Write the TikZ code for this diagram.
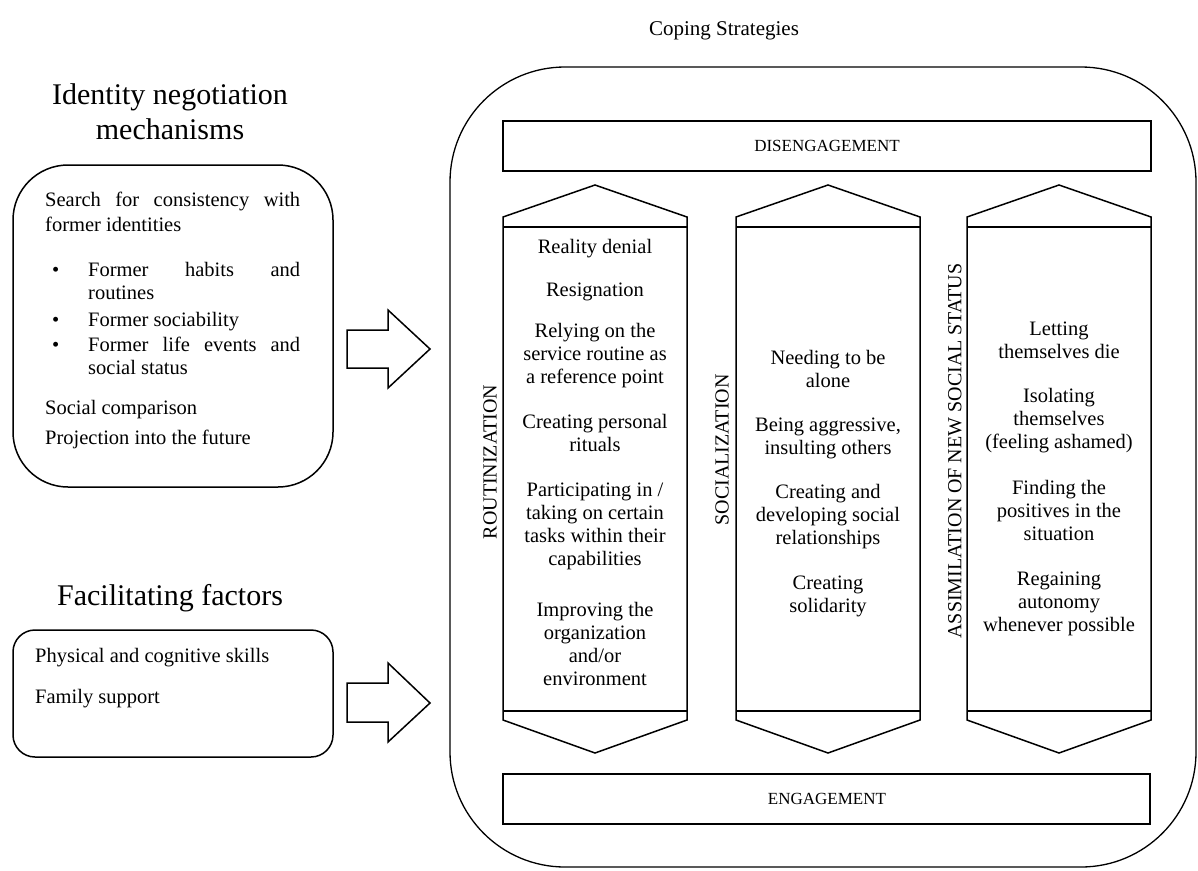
\documentclass[tikz,border=0pt]{standalone}
\usepackage{fontspec}
\setmainfont{Liberation Serif}
\begin{document}
\begin{tikzpicture}[x=1pt,y=-1pt,line join=miter,
  outl/.style={draw,line width=1.5pt},
  bigbox/.style={draw,line width=1.3pt},
  coltxt/.style={anchor=base,inner sep=0pt,font=\fontsize{20.5}{23}\selectfont},
  lefttxt/.style={anchor=base west,inner sep=0pt,font=\fontsize{20.5}{23}\selectfont},
  title/.style={anchor=base,inner sep=0pt,font=\fontsize{30}{34}\selectfont},
  captxt/.style={inner sep=0pt,font=\fontsize{17}{20}\selectfont},
  vlab/.style={inner sep=0pt,rotate=90,font=\fontsize{20}{22}\selectfont}]
\useasboundingbox (0,0) rectangle (1198,870);

% titles
\node[title,font=\fontsize{21}{24}\selectfont] (coping) at (724,35) {Coping Strategies};
\node[title] (idn1) at (170,104) {Identity negotiation};
\node[title] (idn2) at (170,139) {mechanisms};
\node[title] (fac) at (170,605) {Facilitating factors};

% big rounded box
\draw[bigbox,rounded corners=115pt] (450,67) rectangle (1196,867);

% left boxes
\draw[outl,rounded corners=55pt] (13,165) rectangle (333,487);
\draw[outl,rounded corners=22pt] (13,630) rectangle (333,757);

\node[lefttxt] (l1) at (45,206) {\makebox[255pt][s]{Search for consistency with}};
\node[lefttxt] (l2) at (45,231) {former identities};
\node[lefttxt] (b1) at (52,276) {\textbullet};
\node[lefttxt] (b2) at (52,326) {\textbullet};
\node[lefttxt] (b3) at (52,351) {\textbullet};
\node[lefttxt] (l3) at (88,276) {\makebox[212pt][s]{Former habits and}};
\node[lefttxt] (l4) at (88,299) {routines};
\node[lefttxt] (l5) at (88,326) {Former sociability};
\node[lefttxt] (l6) at (88,351) {\makebox[212pt][s]{Former life events and}};
\node[lefttxt] (l7) at (88,374) {social status};
\node[lefttxt] (l8) at (45,414) {Social comparison};
\node[lefttxt] (l9) at (45,444) {Projection into the future};

\node[lefttxt] (f1) at (35,662) {Physical and cognitive skills};
\node[lefttxt] (f2) at (35,703) {Family support};

% block arrows
\draw[outl] (347,330) -- (388,330) -- (388,310) -- (430,349) -- (388,388) -- (388,368) -- (347,368) -- cycle;
\draw[outl] (347,683) -- (388,683) -- (388,663) -- (430,703) -- (388,742) -- (388,722) -- (347,722) -- cycle;

% engagement boxes
\draw[outl] (503,121) rectangle (1151,171);
\node[captxt] (dis) at (827,146) {DISENGAGEMENT};
\draw[outl] (503,774) rectangle (1150,824);
\node[captxt] (eng) at (827,799) {ENGAGEMENT};

% columns
\foreach \xl/\xr in {503/687,736/920,967/1151}{
  \pgfmathsetmacro{\xm}{(\xl+\xr)/2}
  \draw[outl] (\xl,217) -- (\xm,185) -- (\xr,217) -- (\xr,720) -- (\xm,753) -- (\xl,720) -- cycle;
  \draw[outl] (\xl,227) -- (\xr,227);
  \draw[outl] (\xl,711) -- (\xr,711);
}

% vertical labels
\node[vlab] (rout) at (490,462) {ROUTINIZATION};
\node[vlab] (soc) at (722,450) {SOCIALIZATION};
\node[vlab] (assim) at (955,451) {ASSIMILATION OF NEW SOCIAL STATUS};

% column texts
\foreach \yy/\t [count=\i] in {253/{Reality denial},296/{Resignation},337/{Relying on the},360/{service routine as},383/{a reference point},428/{Creating personal},451/{rituals},496/{Participating in /},519/{taking on certain},542/{tasks within their},565/{capabilities},616/{Improving the},639/{organization},662/{and/or},685/{environment}}
  \node[coltxt] (ca\i) at (595,\yy) {\t};

\foreach \yy/\t [count=\i] in {364/{Needing to be},387/{alone},431/{Being aggressive,},454/{insulting others},498/{Creating and},521/{developing social},544/{relationships},589/{Creating},612/{solidarity}}
  \node[coltxt] (cb\i) at (828,\yy) {\t};

\foreach \yy/\t [count=\i] in {335/{Letting},358/{themselves die},402/{Isolating},425/{themselves},448/{(feeling ashamed)},494/{Finding the},517/{positives in the},540/{situation},585/{Regaining},608/{autonomy},631/{whenever possible}}
  \node[coltxt] (cc\i) at (1059,\yy) {\t};
\end{tikzpicture}
\end{document}
